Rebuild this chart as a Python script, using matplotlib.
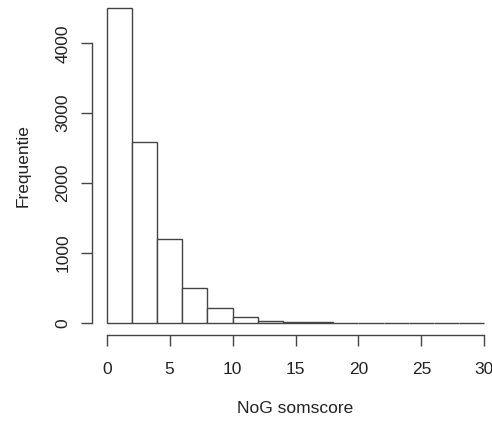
import numpy as np
import matplotlib
matplotlib.use("Agg")
import matplotlib.pyplot as plt

# histogram of NoG somscore, bins of width 2 from 0 to 30
bin_edges = [0, 2, 4, 6, 8, 10, 12, 14, 16, 18, 20, 22, 24, 26, 28, 30]
counts = [4500, 2590, 1205, 490, 208, 75, 30, 12, 5, 2, 1, 1, 0, 0, 1]
x_ticks = [0, 5, 10, 15, 20, 25, 30]
y_ticks = [0, 1000, 2000, 3000, 4000]

plt.rcParams['font.family'] = ['Liberation Sans', 'DejaVu Sans']
line_col = '#444444'
text_col = '#222222'

fig = plt.figure(figsize=(4.92, 4.24), dpi=100)
ax = fig.add_axes([0.1862, 0.2092, 0.8289, 0.8007])

widths = np.diff(bin_edges)
ax.bar(bin_edges[:-1], counts, width=widths, align='edge',
       color='white', edgecolor=line_col, linewidth=1.0)

ax.set_xlim(-1.2, 31.2)
ax.set_ylim(-180, 4680)

for s in ['top', 'right']:
    ax.spines[s].set_visible(False)
ax.spines['left'].set_bounds(0, 4000)
ax.spines['bottom'].set_bounds(0, 30)
for s in ['left', 'bottom']:
    ax.spines[s].set_color(line_col)
    ax.spines[s].set_linewidth(1.0)

ax.set_xticks(x_ticks)
ax.set_yticks(y_ticks)
ax.set_yticklabels([str(v) for v in y_ticks], rotation=90, va='center')
ax.tick_params(axis='both', length=8, width=1.0, color=line_col,
               labelsize=12.5, labelcolor=text_col)
ax.tick_params(axis='x', pad=11.5)
ax.tick_params(axis='y', pad=7.2)

ax.set_xlabel('NoG somscore', fontsize=12.5, color=text_col, labelpad=17)
ax.set_ylabel('Frequentie', fontsize=12.5, color=text_col, labelpad=18)

fig.savefig('out.png', dpi=100)
